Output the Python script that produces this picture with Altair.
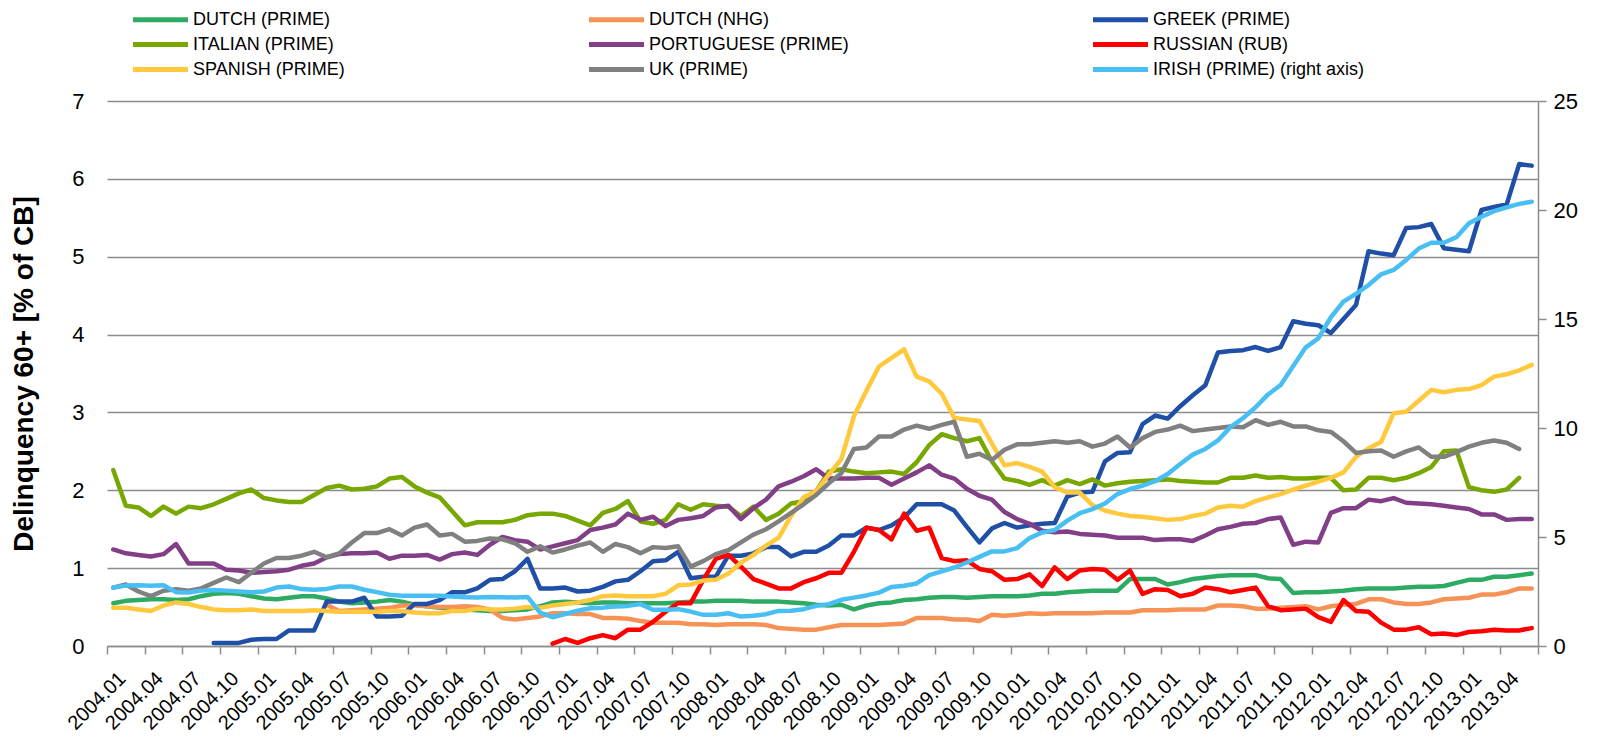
import json
import altair as alt
import pandas as pd

# ---------------- data (monthly, 2004.01 .. 2013.06) ----------------
tick_labels = [
    "2004.01", "2004.04", "2004.07", "2004.10", "2005.01", "2005.04", "2005.07", "2005.10",
    "2006.01", "2006.04", "2006.07", "2006.10", "2007.01", "2007.04", "2007.07", "2007.10",
    "2008.01", "2008.04", "2008.07", "2008.10", "2009.01", "2009.04", "2009.07", "2009.10",
    "2010.01", "2010.04", "2010.07", "2010.10", "2011.01", "2011.04", "2011.07", "2011.10",
    "2012.01", "2012.04", "2012.07", "2012.10", "2013.01", "2013.04",
]
N_MONTHS = 114

dutch_prime = [
    0.55, 0.58, 0.59, 0.60, 0.60, 0.59, 0.60, 0.64, 0.67, 0.68, 0.67, 0.64, 0.61, 0.60, 0.62, 0.64,
    0.64, 0.61, 0.57, 0.55, 0.56, 0.57, 0.59, 0.57, 0.53, 0.51, 0.49, 0.48, 0.47, 0.46, 0.45, 0.45,
    0.46, 0.47, 0.51, 0.56, 0.57, 0.56, 0.55, 0.56, 0.56, 0.55, 0.55, 0.55, 0.55, 0.56, 0.57, 0.57,
    0.58, 0.58, 0.58, 0.57, 0.57, 0.57, 0.56, 0.55, 0.53, 0.52, 0.53, 0.47, 0.52, 0.55, 0.56, 0.59,
    0.60, 0.62, 0.63, 0.63, 0.62, 0.63, 0.64, 0.64, 0.64, 0.65, 0.67, 0.67, 0.69, 0.70, 0.71, 0.71,
    0.71, 0.86, 0.86, 0.86, 0.79, 0.82, 0.86, 0.88, 0.90, 0.91, 0.91, 0.91, 0.87, 0.86, 0.68, 0.69,
    0.69, 0.70, 0.71, 0.73, 0.74, 0.74, 0.74, 0.75, 0.76, 0.76, 0.77, 0.81, 0.85, 0.85, 0.89, 0.89,
    0.91, 0.93,
]
dutch_nhg = [None] * 17 + [
    0.53, 0.45, 0.46, 0.47, 0.48, 0.49, 0.52, 0.52, 0.51, 0.50, 0.50, 0.51, 0.50, 0.47, 0.36,
    0.34, 0.36, 0.38, 0.42, 0.42, 0.41, 0.41, 0.36, 0.36, 0.35, 0.32, 0.30, 0.30, 0.30, 0.28, 0.28,
    0.27, 0.28, 0.28, 0.28, 0.27, 0.23, 0.22, 0.21, 0.21, 0.24, 0.27, 0.27, 0.27, 0.27, 0.28, 0.29,
    0.36, 0.36, 0.36, 0.34, 0.34, 0.32, 0.40, 0.39, 0.40, 0.42, 0.41, 0.42, 0.42, 0.42, 0.42, 0.43,
    0.43, 0.43, 0.46, 0.46, 0.46, 0.47, 0.47, 0.47, 0.52, 0.52, 0.51, 0.48, 0.48, 0.49, 0.50, 0.51,
    0.47, 0.51, 0.53, 0.54, 0.60, 0.60, 0.56, 0.54, 0.54, 0.56, 0.60, 0.61, 0.62, 0.66, 0.66, 0.69,
    0.74, 0.74,
]
greek_prime = [None] * 8 + [
    0.04, 0.04, 0.04, 0.08, 0.09, 0.09, 0.20, 0.20, 0.20, 0.57, 0.57, 0.57, 0.62, 0.38, 0.38, 0.39,
    0.54, 0.54, 0.59, 0.69, 0.69, 0.74, 0.85, 0.86, 0.96, 1.12, 0.74, 0.74, 0.75, 0.70, 0.71, 0.76,
    0.83, 0.85, 0.96, 1.09, 1.10, 1.21, 0.87, 0.89, 0.89, 1.16, 1.16, 1.19, 1.27, 1.27, 1.15, 1.21,
    1.21, 1.29, 1.42, 1.42, 1.52, 1.49, 1.55, 1.65, 1.82, 1.82, 1.82, 1.74, 1.53, 1.33, 1.51, 1.58,
    1.52, 1.55, 1.57, 1.58, 1.92, 1.97, 1.98, 2.37, 2.48, 2.49, 2.85, 2.96, 2.92, 3.08, 3.22, 3.35,
    3.77, 3.79, 3.80, 3.84, 3.79, 3.84, 4.17, 4.14, 4.12, 4.02, 4.20, 4.38, 5.07, 5.04, 5.02, 5.37,
    5.38, 5.42, 5.11, 5.09, 5.07, 5.60, 5.64, 5.67, 6.19, 6.17,
]
italian_prime = [
    2.26, 1.80, 1.78, 1.67, 1.79, 1.70, 1.79, 1.77, 1.82, 1.89, 1.96, 2.01, 1.90, 1.87, 1.85, 1.85,
    1.94, 2.03, 2.06, 2.01, 2.02, 2.05, 2.15, 2.17, 2.05, 1.97, 1.91, 1.73, 1.55, 1.59, 1.59, 1.59,
    1.62, 1.68, 1.70, 1.70, 1.67, 1.61, 1.55, 1.71, 1.76, 1.86, 1.60, 1.57, 1.62, 1.82, 1.75, 1.82,
    1.80, 1.79, 1.67, 1.79, 1.62, 1.70, 1.83, 1.86, 1.99, 2.24, 2.27, 2.24, 2.22, 2.23, 2.24, 2.21,
    2.36, 2.58, 2.72, 2.67, 2.63, 2.67, 2.37, 2.15, 2.12, 2.07, 2.13, 2.06, 2.13, 2.08, 2.14, 2.06,
    2.09, 2.11, 2.12, 2.13, 2.14, 2.12, 2.11, 2.10, 2.10, 2.16, 2.16, 2.19, 2.16, 2.17, 2.15, 2.15,
    2.16, 2.16, 2.00, 2.01, 2.16, 2.16, 2.13, 2.16, 2.22, 2.30, 2.50, 2.51, 2.04, 2.00, 1.98, 2.01,
    2.16, None,
]
portuguese_prime = [
    1.24, 1.19, 1.17, 1.15, 1.18, 1.31, 1.06, 1.06, 1.06, 0.98, 0.97, 0.94, 0.95, 0.96, 0.98, 1.03,
    1.06, 1.14, 1.18, 1.19, 1.19, 1.20, 1.12, 1.16, 1.16, 1.17, 1.11, 1.18, 1.20, 1.17, 1.30, 1.40,
    1.36, 1.34, 1.24, 1.28, 1.32, 1.36, 1.49, 1.52, 1.56, 1.70, 1.62, 1.66, 1.54, 1.62, 1.64, 1.67,
    1.78, 1.80, 1.63, 1.77, 1.88, 2.05, 2.11, 2.18, 2.27, 2.15, 2.15, 2.15, 2.16, 2.16, 2.07, 2.15,
    2.23, 2.32, 2.20, 2.15, 2.02, 1.93, 1.88, 1.72, 1.63, 1.57, 1.48, 1.46, 1.47, 1.44, 1.43, 1.42,
    1.39, 1.39, 1.39, 1.36, 1.37, 1.37, 1.35, 1.42, 1.50, 1.53, 1.57, 1.58, 1.63, 1.65, 1.30, 1.34,
    1.33, 1.71, 1.77, 1.77, 1.88, 1.86, 1.90, 1.84, 1.83, 1.82, 1.80, 1.78, 1.76, 1.69, 1.69, 1.62,
    1.63, 1.63,
]
russian_rub = [None] * 35 + [
    0.03, 0.09, 0.04, 0.10, 0.14, 0.10, 0.21, 0.21, 0.31, 0.44, 0.55, 0.55, 0.85, 1.12, 1.17, 1.02,
    0.86, 0.80, 0.74, 0.74, 0.82, 0.87, 0.94, 0.94, 1.21, 1.52, 1.49, 1.37, 1.70, 1.48, 1.52, 1.13,
    1.09, 1.10, 0.99, 0.96, 0.85, 0.86, 0.92, 0.77, 1.01, 0.86, 0.97, 0.99, 0.98, 0.85, 0.97, 0.67,
    0.73, 0.72, 0.64, 0.67, 0.75, 0.73, 0.69, 0.72, 0.75, 0.51, 0.46, 0.47, 0.48, 0.37, 0.31, 0.59,
    0.45, 0.44, 0.30, 0.21, 0.21, 0.24, 0.15, 0.16, 0.14, 0.18, 0.19, 0.21, 0.20, 0.20, 0.23,
]
spanish_prime = [
    0.49, 0.49, 0.47, 0.45, 0.52, 0.56, 0.54, 0.50, 0.47, 0.46, 0.46, 0.47, 0.45, 0.45, 0.45, 0.45,
    0.46, 0.45, 0.44, 0.44, 0.44, 0.44, 0.45, 0.45, 0.43, 0.42, 0.42, 0.45, 0.45, 0.48, 0.47, 0.47,
    0.48, 0.50, 0.49, 0.52, 0.54, 0.56, 0.59, 0.64, 0.65, 0.64, 0.64, 0.64, 0.67, 0.78, 0.79, 0.84,
    0.85, 0.93, 1.07, 1.17, 1.29, 1.39, 1.67, 1.91, 1.99, 2.20, 2.40, 2.95, 3.28, 3.59, 3.70, 3.81,
    3.46, 3.40, 3.24, 2.93, 2.91, 2.89, 2.60, 2.32, 2.35, 2.30, 2.24, 2.04, 1.97, 1.97, 1.81, 1.74,
    1.70, 1.67, 1.66, 1.64, 1.62, 1.63, 1.67, 1.70, 1.78, 1.80, 1.79, 1.86, 1.91, 1.95, 2.01, 2.06,
    2.11, 2.16, 2.23, 2.43, 2.54, 2.62, 2.99, 3.01, 3.15, 3.29, 3.26, 3.29, 3.30, 3.35, 3.46, 3.49,
    3.54, 3.61,
]
uk_prime = [
    0.75, 0.79, 0.70, 0.64, 0.71, 0.73, 0.71, 0.74, 0.81, 0.88, 0.82, 0.94, 1.06, 1.13, 1.13, 1.16,
    1.21, 1.14, 1.19, 1.33, 1.45, 1.45, 1.50, 1.42, 1.52, 1.56, 1.42, 1.44, 1.34, 1.35, 1.38, 1.37,
    1.32, 1.21, 1.28, 1.20, 1.24, 1.29, 1.33, 1.21, 1.31, 1.27, 1.19, 1.27, 1.26, 1.28, 1.02, 1.09,
    1.18, 1.23, 1.33, 1.43, 1.50, 1.60, 1.71, 1.82, 1.94, 2.09, 2.22, 2.53, 2.55, 2.69, 2.69, 2.78,
    2.83, 2.79, 2.84, 2.88, 2.43, 2.47, 2.39, 2.52, 2.59, 2.59, 2.61, 2.63, 2.61, 2.63, 2.56, 2.60,
    2.69, 2.55, 2.67, 2.75, 2.78, 2.83, 2.76, 2.78, 2.80, 2.82, 2.81, 2.90, 2.84, 2.88, 2.82, 2.82,
    2.77, 2.75, 2.63, 2.48, 2.50, 2.51, 2.43, 2.50, 2.55, 2.43, 2.43, 2.49, 2.56, 2.61, 2.64, 2.61,
    2.53, None,
]
irish_prime = [  # right axis
    2.68, 2.77, 2.79, 2.76, 2.79, 2.47, 2.45, 2.54, 2.57, 2.54, 2.50, 2.47, 2.50, 2.68, 2.73, 2.61,
    2.58, 2.62, 2.73, 2.73, 2.58, 2.47, 2.35, 2.31, 2.30, 2.31, 2.31, 2.27, 2.24, 2.22, 2.25, 2.24,
    2.22, 2.25, 1.53, 1.32, 1.47, 1.62, 1.73, 1.76, 1.81, 1.84, 1.92, 1.66, 1.66, 1.69, 1.58, 1.43,
    1.43, 1.50, 1.35, 1.39, 1.46, 1.61, 1.62, 1.69, 1.84, 1.92, 2.12, 2.22, 2.32, 2.45, 2.71, 2.76,
    2.87, 3.25, 3.42, 3.60, 3.83, 4.09, 4.34, 4.34, 4.49, 4.95, 5.21, 5.32, 5.75, 6.09, 6.28, 6.54,
    6.97, 7.20, 7.36, 7.56, 7.89, 8.35, 8.78, 9.04, 9.43, 10.04, 10.45, 10.95, 11.54, 11.97, 12.84,
    13.70, 14.11, 15.08, 15.80, 16.15, 16.56, 17.05, 17.25, 17.71, 18.23, 18.50, 18.50, 18.75,
    19.39, 19.69, 19.95, 20.12, 20.28, 20.38,
]

# legend is filled column by column: 3 columns x 3 rows
series_names = [
    "DUTCH (PRIME)", "ITALIAN (PRIME)", "SPANISH (PRIME)",
    "DUTCH (NHG)", "PORTUGUESE (PRIME)", "UK (PRIME)",
    "GREEK (PRIME)", "RUSSIAN (RUB)", "IRISH (PRIME) (right axis)",
]
series_colors = [
    "#2EAB62", "#77A700", "#FFC83D",
    "#F79256", "#823F87", "#808080",
    "#1F4FA6", "#FF0000", "#48BEF3",
]
left_pairs = [
    ("DUTCH (PRIME)", dutch_prime), ("DUTCH (NHG)", dutch_nhg), ("GREEK (PRIME)", greek_prime),
    ("ITALIAN (PRIME)", italian_prime), ("PORTUGUESE (PRIME)", portuguese_prime),
    ("RUSSIAN (RUB)", russian_rub), ("SPANISH (PRIME)", spanish_prime), ("UK (PRIME)", uk_prime),
]


def to_rows(name, values, order):
    return [{"x": i + 0.5, "v": val, "series": name, "o": order}
            for i, val in enumerate(values) if val is not None]


left_rows = []
for k, (name, vals) in enumerate(left_pairs):
    left_rows += to_rows(name, vals, k)
df_left = pd.DataFrame(left_rows)
df_right = pd.DataFrame(to_rows("IRISH (PRIME) (right axis)", irish_prime, 8))

# ---------------- styling ----------------
FONT = "Liberation Sans"
GRID = "#8C8C8C"

label_expr = ("datum.value < %d ? %s[floor(datum.value / 3)] : ''"
              % (N_MONTHS, json.dumps(tick_labels).replace('"', "'")))

x_enc = alt.X(
    "x:Q",
    scale=alt.Scale(domain=[0, N_MONTHS], nice=False, zero=False),
    axis=alt.Axis(
        title=None, grid=False,
        values=list(range(0, N_MONTHS + 1, 3)),
        labelExpr=label_expr,
        labelAngle=-45, labelAlign="right", labelBaseline="top",
        labelOffset=8, labelPadding=14,
        labelFont=FONT, labelFontSize=20, labelColor="#000000",
        labelOverlap=False, labelFlush=False, labelBound=False,
        tickSize=8, tickColor=GRID, tickWidth=1.5,
        domainColor=GRID, domainWidth=1.5,
    ),
)

# wide flat stroke symbol with a small nominal size keeps legend rows tight
LEGEND_SYMBOL = "M-2.75,0H2.75"

color_enc = alt.Color(
    "series:N",
    sort=series_names,
    scale=alt.Scale(domain=series_names, range=series_colors),
    legend=alt.Legend(
        title=None, orient="none", legendX=41, legendY=-94,
        columns=3, columnPadding=234, rowPadding=2, gridAlign="each",
        symbolType=LEGEND_SYMBOL, symbolSize=400, symbolStrokeWidth=5,
        labelFont=FONT, labelFontSize=18, labelColor="#000000",
        labelOffset=20, labelLimit=0,
    ),
)

line_style = dict(strokeWidth=4.5, strokeJoin="round", strokeCap="round")

left = alt.Chart(df_left).mark_line(**line_style).encode(
    x=x_enc,
    y=alt.Y(
        "v:Q",
        scale=alt.Scale(domain=[0, 7], nice=False),
        axis=alt.Axis(
            orient="left", values=list(range(0, 8)),
            title="Delinquency 60+ [% of CB]",
            titleFont=FONT, titleFontSize=28, titleFontWeight="bold",
            titleColor="#000000", titlePadding=33,
            labelFont=FONT, labelFontSize=22, labelColor="#000000",
            labelPadding=23, ticks=False, tickSize=0, domain=False,
            grid=True, gridColor=GRID, gridWidth=1.5,
        ),
    ),
    color=color_enc,
    order=alt.Order("o:Q"),
)

right = alt.Chart(df_right).mark_line(**line_style).encode(
    x=x_enc,
    y=alt.Y(
        "v:Q",
        scale=alt.Scale(domain=[0, 25], nice=False),
        axis=alt.Axis(
            orient="right", values=[0, 5, 10, 15, 20, 25], title=None,
            labelFont=FONT, labelFontSize=22, labelColor="#000000",
            labelPadding=7, tickSize=8, tickColor=GRID, tickWidth=1.5,
            domain=True, domainColor=GRID, domainWidth=1.5, grid=False,
        ),
    ),
    color=color_enc,
)

chart = (
    alt.layer(left, right)
    .resolve_scale(y="independent")
    .properties(
        width=1431, height=545,
        padding={"left": 99, "top": 93, "right": 50, "bottom": 90},
        autosize=alt.AutoSizeParams(type="none"),
    )
    .configure(font=FONT)
    .configure_view(stroke=None)
)

chart.save("out.html", embed_options={"renderer": "svg", "actions": False})
